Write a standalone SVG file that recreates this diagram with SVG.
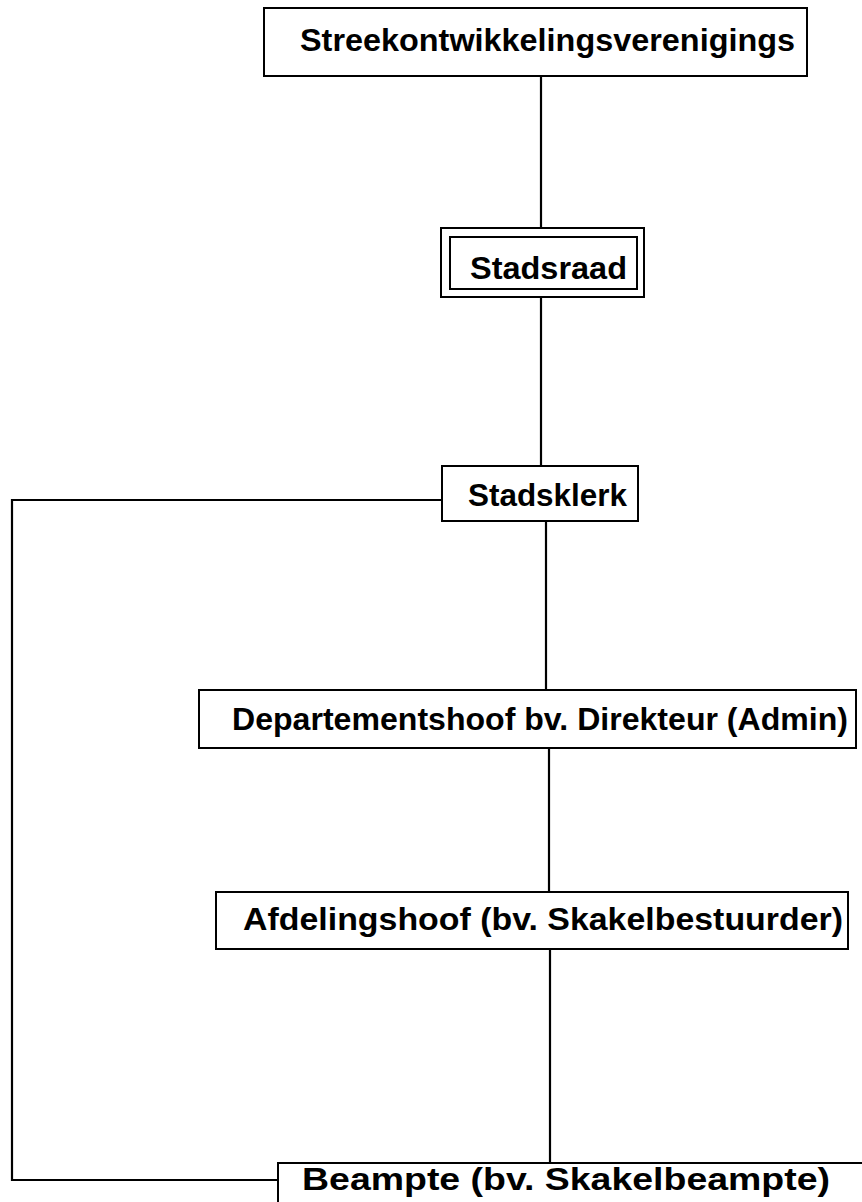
<svg xmlns="http://www.w3.org/2000/svg" width="862" height="1202" viewBox="0 0 862 1202">
<style>
.box{fill:#fff;stroke:#000;stroke-width:2}
.ln{fill:none;stroke:#000;stroke-width:2.2}
.t{font-family:"Liberation Sans",Arial,sans-serif;font-weight:bold;font-size:32px;fill:#000}
</style>
<rect width="862" height="1202" fill="#fff"/>
<g id="connectors">
<line class="ln" x1="541" y1="76" x2="541" y2="228"/>
<line class="ln" x1="541" y1="297" x2="541" y2="466"/>
<polyline class="ln" points="442,500 12,500 12,1180 278,1180"/>
<line class="ln" x1="546" y1="521" x2="546" y2="690"/>
<line class="ln" x1="549" y1="748" x2="549" y2="892"/>
<line class="ln" x1="550" y1="948" x2="550" y2="1163"/>
</g>
<g id="n1">
<rect class="box" x="264" y="8" width="543" height="68"/>
<text class="t" x="300" y="51" textLength="495" lengthAdjust="spacingAndGlyphs">Streekontwikkelingsverenigings</text>
</g>
<g id="n2">
<rect class="box" x="441" y="228" width="203" height="69"/>
<rect class="box" x="450" y="237" width="187" height="52"/>
<text class="t" x="470" y="279" textLength="157" lengthAdjust="spacingAndGlyphs">Stadsraad</text>
</g>
<g id="n3">
<rect class="box" x="442" y="466" width="196" height="55"/>
<text class="t" x="468" y="506" textLength="159" lengthAdjust="spacingAndGlyphs">Stadsklerk</text>
</g>
<g id="n4">
<rect class="box" x="199" y="690" width="657" height="58"/>
<text class="t" x="232" y="730" textLength="616" lengthAdjust="spacingAndGlyphs">Departementshoof bv. Direkteur (Admin)</text>
</g>
<g id="n5">
<rect class="box" x="216" y="892" width="632" height="57"/>
<text class="t" x="243" y="930" textLength="600" lengthAdjust="spacingAndGlyphs">Afdelingshoof (bv. Skakelbestuurder)</text>
</g>
<g id="n6">
<rect class="box" x="278" y="1163" width="600" height="60"/>
<text class="t" x="302" y="1190" textLength="528" lengthAdjust="spacingAndGlyphs">Beampte (bv. Skakelbeampte)</text>
</g>
</svg>
